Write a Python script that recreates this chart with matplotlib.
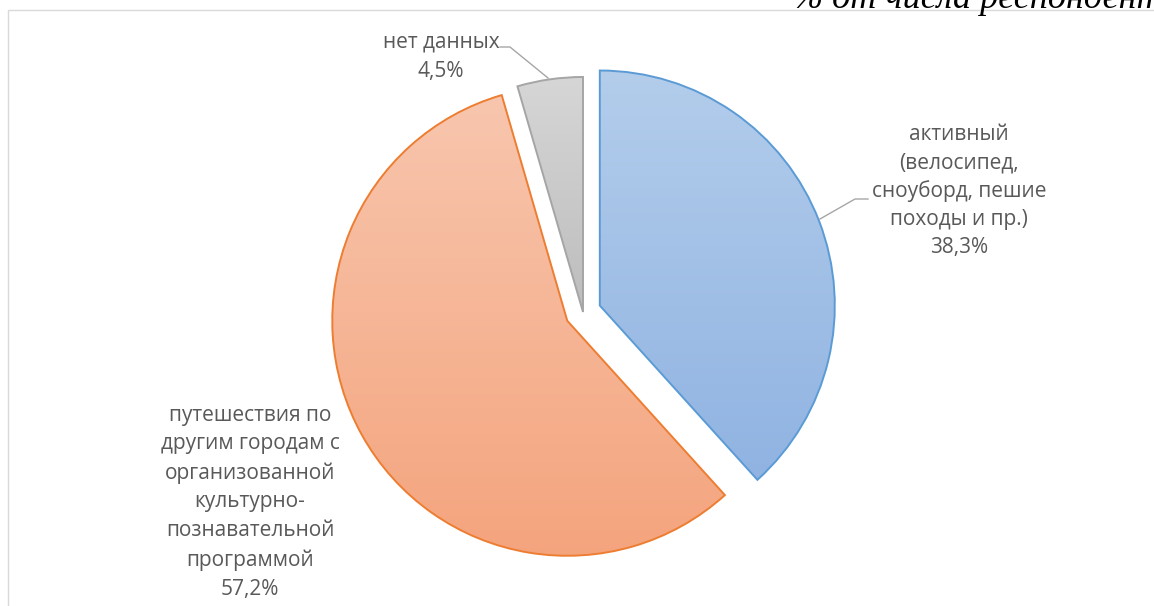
import matplotlib
matplotlib.use('Agg')
import matplotlib.pyplot as plt
import numpy as np
from matplotlib.colors import LinearSegmentedColormap

# ---- data ----
categories = ['активный\n(велосипед,\nсноуборд, пешие\nпоходы и пр.)',
              'путешествия по\nдругим городам с\nорганизованной\nкультурно-\nпознавательной\nпрограммой',
              'нет данных']
values = [38.3, 57.2, 4.5]
value_labels = ['38,3%', '57,2%', '4,5%']
title_text = '% от числа респондентов'

# ---- styling ----
W, H = 1154, 606
edge_colors = ['#5B9BD5', '#ED7D31', '#A5A5A5']
grad_top = ['#B3CDEB', '#F8C6AE', '#D6D6D6']
grad_bot = ['#90B3E2', '#F4A47D', '#BDBDBD']
explode = [18, 18, 0]
label_pos = [(959, 191), (250, 502), (441, 57)]   # pixel centers (y from top)
line_step = [28.0, 29.0, 30.0]
text_color = '#595959'
font = 'Open Sans'

fig = plt.figure(figsize=(W / 100, H / 100), dpi=100)
ax = fig.add_axes([0, 0, 1, 1])
cx, cy, R = 583, H - 312, 235

wedges, _ = ax.pie(values, radius=R, center=(cx, cy), startangle=90,
                   counterclock=False, explode=explode, frame=True,
                   wedgeprops=dict(linewidth=1.4, joinstyle='miter'))
ax.set_xlim(0, W)
ax.set_ylim(0, H)
ax.set_aspect('equal')
ax.axis('off')

for w, ec, ct, cb in zip(wedges, edge_colors, grad_top, grad_bot):
    w.set_facecolor('none')
    w.set_edgecolor(ec)
    w.set_zorder(3)
    verts = w.get_path().vertices
    x0, y0 = verts.min(axis=0)
    x1, y1 = verts.max(axis=0)
    cmap = LinearSegmentedColormap.from_list('g', [cb, ct])
    grad = np.linspace(0, 1, 256).reshape(-1, 1)
    im = ax.imshow(grad, cmap=cmap, origin='lower', aspect='auto',
                   extent=(x0, x1, y0, y1), zorder=2, interpolation='bilinear')
    im.set_clip_path(w)

ax.set_xlim(0, W)
ax.set_ylim(0, H)

# leader lines (pixel coordinates, y from top)
leaders = [[(820, 219), (855, 199), (868, 199)],
           [(548, 78), (510, 47), (500, 47)]]
for pts in leaders:
    xs = [p[0] for p in pts]
    ys = [H - p[1] for p in pts]
    ax.plot(xs, ys, color='#A6A6A6', linewidth=1.0, zorder=4)

# labels
for cat, val, (lx, ly), step in zip(categories, value_labels, label_pos, line_step):
    lines = cat.split('\n') + [val]
    n = len(lines)
    for i, ln in enumerate(lines):
        yy = ly + (i - (n - 1) / 2) * step
        ax.text(lx, H - yy, ln, ha='center', va='center', fontsize=15,
                color=text_color, family=font, zorder=5)

# chart border
ax.plot([7.5, 7.5, W + 5], [-5, H - 9.5, H - 9.5], color='#D9D9D9',
        linewidth=1.0, zorder=1, clip_on=False)

# cut-off title at top right
ax.text(793, H - 8, title_text, ha='left', va='baseline', fontsize=26,
        style='italic', family='Liberation Serif', color='black', zorder=6)

fig.savefig('out.png', dpi=100)
